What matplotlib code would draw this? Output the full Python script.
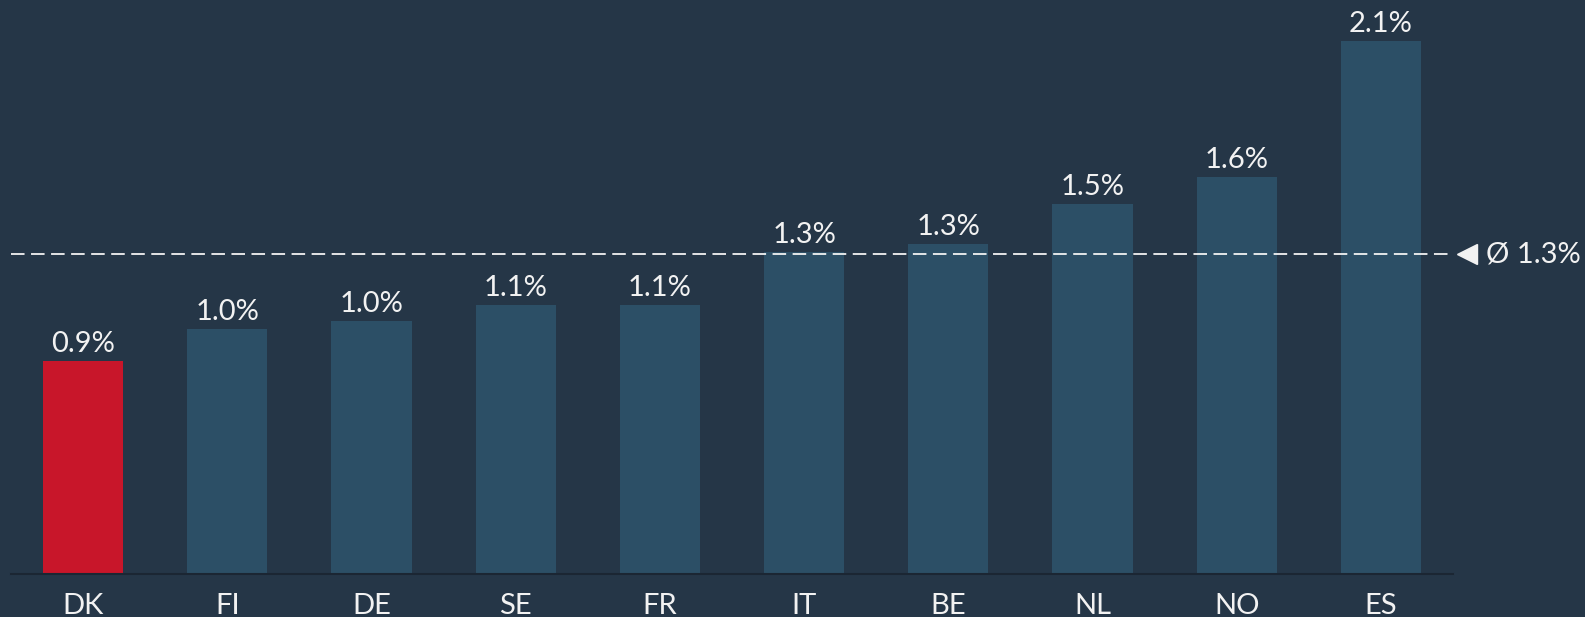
import matplotlib.pyplot as plt

countries = ["DK", "FI", "DE", "SE", "FR", "IT", "BE", "NL", "NO", "ES"]
values = [0.90, 1.02, 1.05, 1.11, 1.11, 1.31, 1.34, 1.49, 1.59, 2.10]
value_labels = ["0.9%", "1.0%", "1.0%", "1.1%", "1.1%", "1.3%", "1.3%", "1.5%", "1.6%", "2.1%"]
average = 1.30
average_label = "Ø 1.3%"
highlight = "DK"

BG = "#253647"
BAR = "#2c4f66"
RED = "#c8162a"
TXT = "#f2f2f2"

plt.rcParams["font.family"] = ["Lato", "DejaVu Sans"]

fig = plt.figure(figsize=(15.85, 6.17), dpi=100, facecolor=BG)
ax = fig.add_axes([11 / 1585, 43 / 617, 1442 / 1585, 574 / 617])
ax.set_facecolor(BG)

colors = [RED if c == highlight else BAR for c in countries]
x = list(range(len(countries)))
bars = ax.bar(x, values, width=0.555, color=colors, zorder=2)

for b, lab in zip(bars, value_labels):
    ax.annotate(lab, (b.get_x() + b.get_width() / 2, b.get_height()),
                xytext=(0, 3), textcoords="offset points",
                ha="center", va="bottom", color=TXT, fontsize=21)

# average line with marker + label outside the axes
ax.axhline(average, color=TXT, lw=1.3, linestyle=(0, (7.5, 3.6)), zorder=3)
ax.plot([9.6], [average], marker="<", color=TXT, markersize=15, clip_on=False, zorder=4)
ax.text(9.73, average, average_label, color=TXT, fontsize=21,
        ha="left", va="center", clip_on=False)

ax.set_xlim(-0.5, 9.5)
ax.set_ylim(0.1, 0.1 + 574 / 266.3)
ax.set_xticks(x)
ax.set_xticklabels(countries, color=TXT, fontsize=21)
ax.tick_params(axis="x", length=0, pad=14)
ax.set_yticks([])
for s in ["top", "right", "left"]:
    ax.spines[s].set_visible(False)
ax.spines["bottom"].set_color("#1b2633")
ax.spines["bottom"].set_linewidth(1.5)

fig.savefig("out.png", dpi=100, facecolor=BG)
